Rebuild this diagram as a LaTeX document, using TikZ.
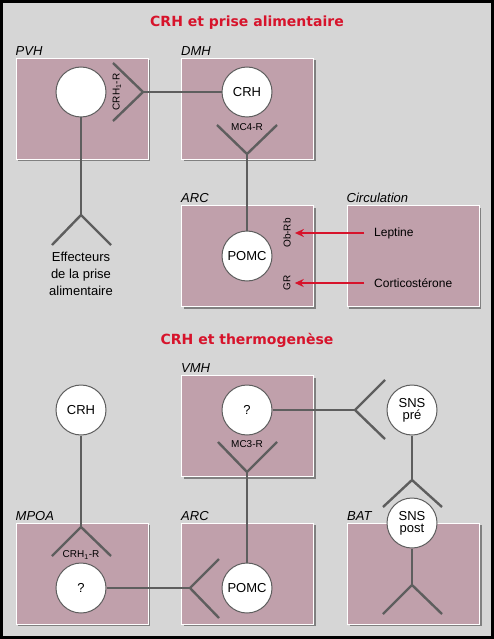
\documentclass[tikz,border=0pt]{standalone}
\usepackage{fontspec}
\setmainfont{Liberation Sans}
\newfontfamily\titlefont{DejaVu Sans}
\usepackage{tikz}
\usetikzlibrary{positioning, shapes, arrows.meta, calc, shadows}
\definecolor{bggray}{HTML}{D6D6D6}
\definecolor{boxpink}{HTML}{C0A0AB}
\definecolor{linegray}{HTML}{5E5E5E}
\definecolor{titlered}{HTML}{D7132B}

\begin{document}
\begin{tikzpicture}[
    x=1pt, y=1pt,
    region/.style = {rectangle, fill=boxpink, draw=white, line width=1pt,
        minimum width=132pt, minimum height=101pt, inner sep=0pt,
        drop shadow={shadow xshift=2pt, shadow yshift=-2pt, fill=black!50, opacity=1}},
    cell/.style = {circle, fill=white, draw=linegray, line width=1pt,
        minimum size=50pt, inner sep=0pt, align=center,
        font=\fontsize{13}{14}\selectfont},
    tag/.style = {inner sep=1pt, font=\fontsize{13}{14}\selectfont\itshape},
    rec/.style = {inner sep=1pt, font=\fontsize{10}{11}\selectfont},
    title/.style = {text=titlered, font=\titlefont\bfseries\fontsize{14}{16}\selectfont},
    nerve/.style = {draw=linegray, line width=2.4pt},
    sig/.style = {draw=titlered, line width=2pt, -{Stealth[length=9pt,width=8pt]}}
]

% Background and frame
\useasboundingbox (0,0) rectangle (494,-639);
\fill[bggray] (0,0) rectangle (494,-639);
\draw[black, line width=3pt] (1.5,-1.5) rectangle (492.5,-637.5);

% CRH et prise alimentaire
\node[title] (t1) at (247,-23) {CRH et prise alimentaire};

\node[region] (pvh) at (82,-109) {};
\node[region] (dmh) at (247.5,-109) {};
\node[region] (arc1) at (247.5,-256) {};
\node[region] (circ) at (413,-256) {};

\node[tag, above right=1pt and -1pt of pvh.north west] {PVH};
\node[tag, above right=1pt and -1pt of dmh.north west] {DMH};
\node[tag, above right=1pt and -1pt of arc1.north west] {ARC};
\node[tag, above right=1pt and -1pt of circ.north west] {Circulation};

\coordinate (v1) at (143,-92);
\coordinate (v1a) at (113,-63);
\coordinate (v1b) at (113,-121);
\coordinate (v2) at (81,-215);
\coordinate (v2a) at (52,-245);
\coordinate (v2b) at (111,-245);
\coordinate (v3) at (247,-154);
\coordinate (v3a) at (217,-125);
\coordinate (v3b) at (277,-125);

\node[cell] (pvhc) at (81,-92) {};
\node[cell] (crh1) at (247,-92) {CRH};
\node[cell] (pomc1) at (247,-256) {POMC};

\draw[nerve] (v1a) -- (v1) -- (v1b);
\draw[nerve] (v1) -- (crh1);
\draw[nerve] (pvhc) -- (v2);
\draw[nerve] (v2a) -- (v2) -- (v2b);
\draw[nerve] (v3a) -- (v3) -- (v3b);
\draw[nerve] (v3) -- (pomc1);

\node[rec, rotate=90] (crhr1) at (117,-92) {CRH\textsubscript{1}-R};
\node[rec] (mc4r) at (247,-127) {MC4-R};
\node[rec, rotate=90, inner sep=4pt] (obrb) at (287,-233) {Ob-Rb};
\node[rec, rotate=90, inner sep=4pt] (gr) at (287,-283) {GR};

\node[align=center, font=\fontsize{13}{16.7}\selectfont] (eff) at (81,-274)
    {Effecteurs\\de la prise\\alimentaire};

\node[anchor=west, inner sep=1pt, font=\fontsize{12}{13}\selectfont]
    (lep) at (373,-233) {Leptine};
\node[anchor=west, inner sep=1pt, font=\fontsize{12}{13}\selectfont]
    (cort) at (373,-283) {Corticostérone};

\draw[sig] ([xshift=-9pt]lep.west) -- (obrb.south);
\draw[sig] ([xshift=-9pt]cort.west) -- (gr.south);

% CRH et thermogenese
\node[title] (t2) at (247,-340) {CRH et thermogenèse};

\node[region] (vmh) at (247.5,-426) {};
\node[region] (mpoa) at (82,-573.5) {};
\node[region] (arc2) at (247.5,-573.5) {};
\node[region] (bat) at (413.5,-573.5) {};

\node[tag, above right=1pt and -1pt of vmh.north west] {VMH};
\node[tag, above right=1pt and -1pt of mpoa.north west] {MPOA};
\node[tag, above right=1pt and -1pt of arc2.north west] {ARC};
\node[tag, above right=1pt and -1pt of bat.north west] {BAT};

\coordinate (w1) at (355,-410);
\coordinate (w1a) at (385,-380);
\coordinate (w1b) at (385,-439);
\coordinate (w2) at (412,-480);
\coordinate (w2a) at (383,-507);
\coordinate (w2b) at (442,-507);
\coordinate (w3) at (412,-585);
\coordinate (w3a) at (383,-614);
\coordinate (w3b) at (442,-614);
\coordinate (w4) at (247,-472);
\coordinate (w4a) at (218,-442);
\coordinate (w4b) at (277,-442);
\coordinate (w5) at (190,-588);
\coordinate (w5a) at (219,-559);
\coordinate (w5b) at (219,-618);
\coordinate (w6) at (81,-527);
\coordinate (w6a) at (52,-556);
\coordinate (w6b) at (111,-556);

\node[cell] (crh2) at (81,-410) {CRH};
\node[cell] (q1) at (247,-410) {?};
\node[cell] (snspre) at (412,-410) {SNS\\[-2pt]pré};
\node[cell] (q2) at (81,-588) {?};
\node[cell] (pomc2) at (247,-588) {POMC};

\draw[nerve] (q1) -- (w1);
\draw[nerve] (w1a) -- (w1) -- (w1b);
\draw[nerve] (snspre) -- (w2);
\draw[nerve] (w2a) -- (w2) -- (w2b);
\draw[nerve] (w3a) -- (w3) -- (w3b);
\draw[nerve] (w4a) -- (w4) -- (w4b);
\draw[nerve] (w4) -- (pomc2);
\draw[nerve] (w5a) -- (w5) -- (w5b);
\draw[nerve] (w5) -- (q2);
\draw[nerve] (crh2) -- (w6);
\draw[nerve] (w6a) -- (w6) -- (w6b);

\node[cell] (snspost) at (412,-523) {SNS\\[-2pt]post};
\draw[nerve] (snspost) -- (w3);

\node[rec] (mc3r) at (247,-444) {MC3-R};
\node[rec] (crhr2) at (81,-555) {CRH\textsubscript{1}-R};

\end{tikzpicture}
\end{document}
